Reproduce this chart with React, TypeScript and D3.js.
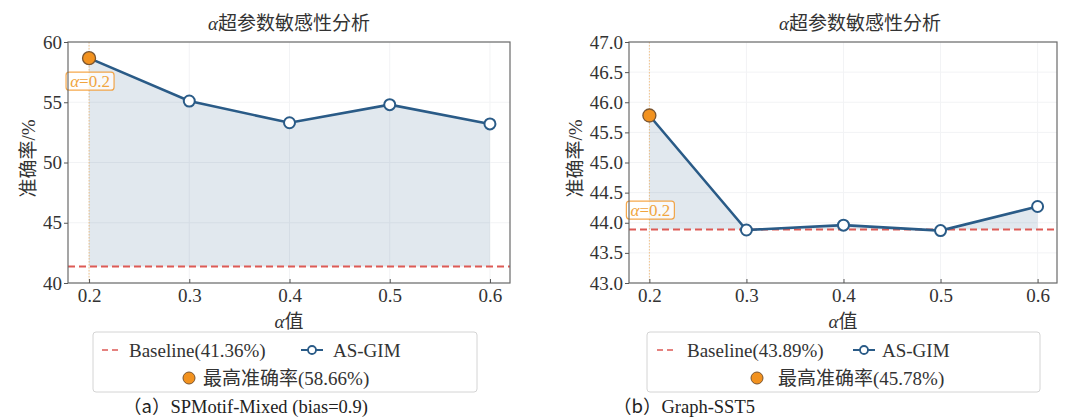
import { useEffect, useRef } from "react"
import * as d3 from "d3"

// alpha values on the x axis
const alphaValues = [0.2, 0.3, 0.4, 0.5, 0.6]
const alphaTicks = ["0.2", "0.3", "0.4", "0.5", "0.6"]

// (a) SPMotif-Mixed
const accMixed = [58.66, 55.1, 53.3, 54.8, 53.2]
const baselineMixed = 41.36
const yTicksMixed = [40, 45, 50, 55, 60]

// (b) Graph-SST5
const accSST5 = [45.78, 43.88, 43.96, 43.87, 44.27]
const baselineSST5 = 43.89
const yTicksSST5 = [43.0, 43.5, 44.0, 44.5, 45.0, 45.5, 46.0, 46.5, 47.0]

const FONT = "'Liberation Serif', 'Times New Roman', 'DejaVu Serif', 'Noto Sans CJK SC', serif"
const LINE = "#2a5b87"
const ORANGE = "#f2921f"
const RED = "#dd5a55"
const FS = "19px"

type PanelCfg = {
  left: number
  right: number
  values: number[]
  baseline: number
  yTicks: number[]
  yFormat: string
  annotY: number
  titleX: number
  yLabelOff: number
  legendX: number
  legendW: number
  lg: { dash: number; text1: number; marker: number; text2: number; dot: number; text3: number }
  tag: string
  caption: string
  captionX: number
}

const panels: PanelCfg[] = [
  {
    left: 68, right: 510, values: accMixed, baseline: baselineMixed,
    yTicks: yTicksMixed, yFormat: "d", annotY: 56.75, titleX: 289, yLabelOff: 40,
    legendX: 93, legendW: 384,
    lg: { dash: 9, text1: 36, marker: 208, text2: 240, dot: 96, text3: 110 },
    tag: "（a）", caption: "SPMotif-Mixed (bias=0.9)", captionX: 123,
  },
  {
    left: 629, right: 1057, values: accSST5, baseline: baselineSST5,
    yTicks: yTicksSST5, yFormat: ".1f", annotY: 44.21, titleX: 860, yLabelOff: 54,
    legendX: 647, legendW: 393,
    lg: { dash: 10, text1: 40, marker: 206, text2: 235, dot: 110, text3: 131 },
    tag: "（b）", caption: "Graph-SST5", captionX: 613,
  },
]

export default function App() {
  const svgRef = useRef<SVGSVGElement>(null)

  useEffect(() => {
    if (!svgRef.current) return
    const svg = d3.select(svgRef.current)
    svg.selectAll("*").remove()
    svg.style("font-family", FONT)

    const top = 42
    const bottom = 283

    panels.forEach((p) => {
      const g = svg.append("g")
      const x = d3.scaleLinear().domain([0.179, 0.62]).range([p.left, p.right])
      const y = d3
        .scaleLinear()
        .domain([p.yTicks[0], p.yTicks[p.yTicks.length - 1]])
        .range([bottom, top])
      const fmt = d3.format(p.yFormat)
      const bestIdx = d3.maxIndex(p.values)
      const bestVal = p.values[bestIdx]
      const bestX = x(alphaValues[bestIdx])

      // grid
      g.append("g")
        .selectAll("line")
        .data(alphaValues)
        .join("line")
        .attr("x1", (d) => x(d))
        .attr("x2", (d) => x(d))
        .attr("y1", top)
        .attr("y2", bottom)
        .attr("stroke", "#f2f3f5")
        .attr("stroke-width", 1)
      g.append("g")
        .selectAll("line")
        .data(p.yTicks)
        .join("line")
        .attr("x1", p.left)
        .attr("x2", p.right)
        .attr("y1", (d) => y(d))
        .attr("y2", (d) => y(d))
        .attr("stroke", "#f2f3f5")
        .attr("stroke-width", 1)

      // fill between curve and baseline
      const pts = alphaValues.map((a, i) => [a, p.values[i]] as [number, number])
      const area = d3
        .area<[number, number]>()
        .x((d) => x(d[0]))
        .y0(y(p.baseline))
        .y1((d) => y(d[1]))
      g.append("path")
        .datum(pts)
        .attr("d", area)
        .attr("fill", LINE)
        .attr("fill-opacity", 0.14)

      // vertical marker at best alpha
      g.append("line")
        .attr("x1", bestX)
        .attr("x2", bestX)
        .attr("y1", top)
        .attr("y2", bottom)
        .attr("stroke", ORANGE)
        .attr("stroke-opacity", 0.5)
        .attr("stroke-width", 1)
        .attr("stroke-dasharray", "1.5 1.5")

      // baseline
      g.append("line")
        .attr("x1", p.left)
        .attr("x2", p.right)
        .attr("y1", y(p.baseline))
        .attr("y2", y(p.baseline))
        .attr("stroke", RED)
        .attr("stroke-width", 2)
        .attr("stroke-dasharray", "7 4")

      // line
      const line = d3
        .line<[number, number]>()
        .x((d) => x(d[0]))
        .y((d) => y(d[1]))
      g.append("path")
        .datum(pts)
        .attr("d", line)
        .attr("fill", "none")
        .attr("stroke", LINE)
        .attr("stroke-width", 2.6)

      g.append("g")
        .selectAll("circle")
        .data(pts.filter((_, i) => i !== bestIdx))
        .join("circle")
        .attr("cx", (d) => x(d[0]))
        .attr("cy", (d) => y(d[1]))
        .attr("r", 5.5)
        .attr("fill", "white")
        .attr("stroke", LINE)
        .attr("stroke-width", 2)

      g.append("circle")
        .attr("cx", bestX)
        .attr("cy", y(bestVal))
        .attr("r", 6.5)
        .attr("fill", ORANGE)
        .attr("stroke", "#7a5530")
        .attr("stroke-width", 1.3)

      // annotation
      const ann = g.append("g").attr("transform", `translate(${bestX + 1},${y(p.annotY)})`)
      ann.append("rect")
        .attr("x", -24)
        .attr("y", -9)
        .attr("width", 48)
        .attr("height", 18)
        .attr("rx", 3)
        .attr("fill", "white")
        .attr("fill-opacity", 0.75)
        .attr("stroke", ORANGE)
        .attr("stroke-opacity", 0.8)
        .attr("stroke-width", 1.2)
      const at = ann.append("text")
        .attr("text-anchor", "middle")
        .attr("dy", "0.35em")
        .style("font-size", "17px")
        .attr("fill", "#f0a540")
      at.append("tspan").style("font-style", "italic").text("α")
      at.append("tspan").text(`=${alphaTicks[bestIdx]}`)

      // frame
      g.append("rect")
        .attr("x", p.left)
        .attr("y", top)
        .attr("width", p.right - p.left)
        .attr("height", bottom - top)
        .attr("fill", "none")
        .attr("stroke", "#6a6a6a")
        .attr("stroke-width", 1.2)

      // y axis
      const ya = g.append("g").attr("transform", `translate(${p.left},0)`)
      ya.call(d3.axisLeft(y).tickValues(p.yTicks).tickFormat((d) => fmt(d as number)).tickSize(4).tickPadding(2))
      ya.select(".domain").remove()
      ya.selectAll(".tick line").attr("stroke", "#555")
      ya.selectAll(".tick text").style("font-size", FS).style("font-family", FONT).attr("fill", "#333")

      // x axis (ticks inward)
      const xa = g.append("g").attr("transform", `translate(0,${bottom})`)
      xa.call(d3.axisBottom(x).tickValues(alphaValues).tickFormat((_, i) => alphaTicks[i]).tickSize(-4).tickPadding(6))
      xa.select(".domain").remove()
      xa.selectAll(".tick line").attr("stroke", "#555")
      xa.selectAll(".tick text").style("font-size", FS).style("font-family", FONT).attr("fill", "#333")

      // title
      const tt = g.append("text")
        .attr("x", p.titleX)
        .attr("y", 30)
        .attr("text-anchor", "middle")
        .style("font-size", FS)
        .attr("fill", "#333")
      tt.append("tspan").style("font-style", "italic").text("α")
      tt.append("tspan").text("超参数敏感性分析")

      // axis labels
      const xl = g.append("text")
        .attr("x", (p.left + p.right) / 2)
        .attr("y", 328)
        .attr("text-anchor", "middle")
        .style("font-size", FS)
        .attr("fill", "#333")
      xl.append("tspan").style("font-style", "italic").text("α")
      xl.append("tspan").text("值")

      g.append("text")
        .attr("transform", `translate(${p.left - p.yLabelOff},${(top + bottom) / 2 - 4}) rotate(-90)`)
        .attr("text-anchor", "middle")
        .attr("dy", "0.35em")
        .style("font-size", FS)
        .attr("fill", "#333")
        .text("准确率/%")

      // legend
      const lg = g.append("g").attr("transform", `translate(${p.legendX},332)`)
      lg.append("rect")
        .attr("width", p.legendW)
        .attr("height", 60)
        .attr("rx", 3)
        .attr("fill", "white")
        .attr("stroke", "#d4d4d4")
        .attr("stroke-width", 1)
      lg.append("line")
        .attr("x1", p.lg.dash).attr("x2", p.lg.dash + 17).attr("y1", 18).attr("y2", 18)
        .attr("stroke", RED).attr("stroke-width", 1.6).attr("stroke-dasharray", "6 4")
      lg.append("text")
        .attr("x", p.lg.text1).attr("y", 18).attr("dy", "0.35em")
        .style("font-size", FS).attr("fill", "#333")
        .text(`Baseline(${p.baseline.toFixed(2)}%)`)
      lg.append("line")
        .attr("x1", p.lg.marker).attr("x2", p.lg.marker + 22).attr("y1", 18).attr("y2", 18)
        .attr("stroke", LINE).attr("stroke-width", 2)
      lg.append("circle")
        .attr("cx", p.lg.marker + 11).attr("cy", 18).attr("r", 4)
        .attr("fill", "white").attr("stroke", LINE).attr("stroke-width", 1.8)
      lg.append("text")
        .attr("x", p.lg.text2).attr("y", 18).attr("dy", "0.35em")
        .style("font-size", FS).attr("fill", "#333")
        .text("AS-GIM")
      lg.append("circle")
        .attr("cx", p.lg.dot).attr("cy", 46).attr("r", 6)
        .attr("fill", ORANGE).attr("stroke", "#7a5530").attr("stroke-width", 1)
      lg.append("text")
        .attr("x", p.lg.text3).attr("y", 46).attr("dy", "0.35em")
        .style("font-size", FS).attr("fill", "#333")
        .text(`最高准确率(${bestVal.toFixed(2)}%)`)

      // caption: full-width tag, then the dataset name
      const cap = g.append("text")
        .attr("x", p.captionX)
        .attr("y", 407)
        .attr("dy", "0.35em")
        .style("font-size", "18.5px")
        .attr("fill", "#222")
      cap.append("tspan").style("font-family", "'Noto Sans CJK SC', sans-serif").text(p.tag)
      cap.append("tspan").text(p.caption)
    })
  }, [])

  return (
    <svg
      ref={svgRef}
      width={1084}
      height={418}
      style={{ position: "absolute", left: 0, top: 0, background: "white" }}
    />
  )
}
